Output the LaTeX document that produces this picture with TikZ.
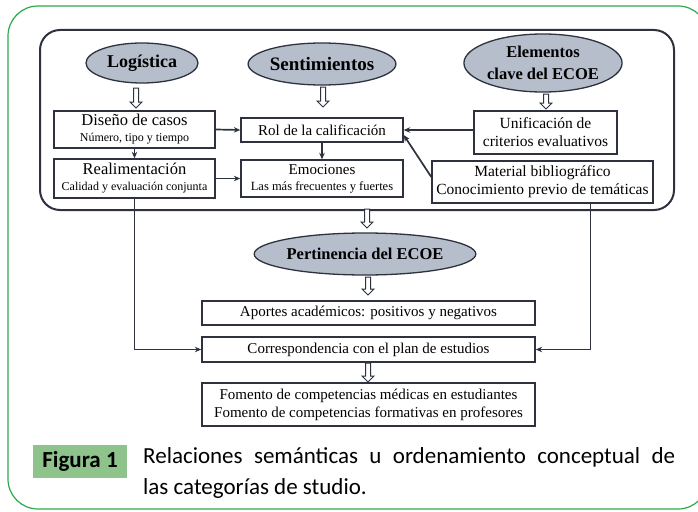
\documentclass[tikz,border=0pt]{standalone}
\usepackage{fontspec}
\setmainfont{Liberation Serif}
\newfontfamily\capfont{Carlito}
\usetikzlibrary{shapes.geometric,arrows.meta}
\definecolor{frameg}{RGB}{40,170,75}
\definecolor{labg}{RGB}{143,195,140}
\definecolor{ellf}{RGB}{182,189,203}
\definecolor{ink}{RGB}{45,50,62}
\tikzset{
  box/.style={draw=ink, line width=1.4pt, fill=white, inner sep=0pt, align=center},
  oval/.style={ellipse, draw=ink, line width=1.3pt, fill=ellf, inner sep=0pt, align=center},
  hollow/.style={draw=ink, line width=1pt, fill=white, line join=miter},
  conn/.style={draw=ink, line width=1.7pt, -{Stealth[length=6.5pt,width=5.5pt]}},
}
\newcommand{\fs}[1]{\fontsize{#1}{#1}\selectfont}
% hollow down arrow: name, x, top y, length
\newcommand{\hollowarrow}[4]{%
  \coordinate (#1) at (#2,#3);
  \draw[hollow] (#1) ++(-2.5,0) -- ++(0,#4-6) -- ++(-3.5,0) -- ++(6,6) -- ++(6,-6) -- ++(-3.5,0) -- ++(0,-#4+6) -- cycle;}
\begin{document}
\begin{tikzpicture}[x=1pt,y=-1pt]
\useasboundingbox (0,0) rectangle (698,511);
\draw[frameg, line width=1.2pt, rounded corners=30pt] (8,6) rectangle (708,509);
\draw[ink, line width=2pt, rounded corners=20pt] (40,30) rectangle (674,210);
% ellipses
\node[oval, minimum width=112pt, minimum height=40pt, font=\fs{18}\bfseries] (log) at (142,63) {Logística};
\node[oval, minimum width=128pt, minimum height=42pt, font=\fs{19}\bfseries] (sen) at (322,64) {Sentimientos};
\node[oval, minimum width=152pt, minimum height=58pt, font=\fontsize{16.5}{20}\selectfont\bfseries] (ele) at (543,63) {Elementos\\[2pt]clave del ECOE};
\node[oval, minimum width=186pt, minimum height=42pt, font=\fs{16.5}\bfseries] (per) at (365,254) {Pertinencia del ECOE};
% hollow arrows
\hollowarrow{h1}{136}{88}{20}
\hollowarrow{h2}{323}{87}{20}
\hollowarrow{h3}{546}{94}{15}
\hollowarrow{h4}{367}{209}{19}
\hollowarrow{h5}{368}{277}{18}
\hollowarrow{h6}{368}{363}{19}
% boxes
\node[box, minimum width=161pt, minimum height=37pt] (dis) at (134.5,129.5) {\fs{16.5}Diseño de casos\\[4pt]\fs{12}Número, tipo y tiempo};
\node[box, minimum width=161pt, minimum height=39pt] (rea) at (134.5,178.5) {\fs{16.5}Realimentación\\[4pt]\fs{12}Calidad y evaluación conjunta};
\node[box, minimum width=162pt, minimum height=24pt, font=\fs{15}] (rol) at (322,130) {Rol de la calificación};
\node[box, minimum width=162pt, minimum height=37pt] (emo) at (322,178.5) {\fs{15}Emociones\\[4pt]\fs{12.5}Las más frecuentes y fuertes};
\node[box, minimum width=143pt, minimum height=43pt, font=\fontsize{15.5}{18}\selectfont] (uni) at (545.5,132.5) {Unificación de\\criterios evaluativos};
\node[box, minimum width=221pt, minimum height=42pt, font=\fontsize{15.5}{18}\selectfont] (mat) at (542.5,182) {Material bibliográfico\\Conocimiento previo de temáticas};
\node[box, minimum width=333pt, minimum height=24pt, font=\fs{15}] (apo) at (368.5,313) {Aportes académicos: positivos y negativos};
\node[box, minimum width=333pt, minimum height=25pt, font=\fs{15}] (cor) at (368.5,349.5) {Correspondencia con el plan de estudios};
\node[box, minimum width=333pt, minimum height=43pt, font=\fontsize{15}{18}\selectfont] (fom) at (368.5,404.5) {Fomento de competencias médicas en estudiantes\\Fomento de competencias formativas en profesores};
% connectors
\draw[conn] (dis.east) -- (rol.west);
\draw[conn] (dis.south) -- (rea.north);
\draw[conn] (rea.east) -- (emo.west);
\draw[conn] (rol.south) -- (emo.north);
\draw[conn] (uni.west |- rol.east) -- (rol.east);
\draw[conn] ([yshift=5pt]mat.west) -- ([yshift=-5pt]rol.east);
\draw[conn] (rea.south) |- (cor.west);
\draw[conn] ([xshift=48pt]mat.south) |- (cor.east);
% caption
\node[fill=labg, minimum width=94pt, minimum height=33pt, inner sep=0pt, font=\capfont\fs{23}\bfseries] (fig) at (80,461.5) {Figura 1};
\node[anchor=base west, inner sep=0pt, align=left, font=\capfont\fontsize{23}{31}\selectfont] (cap) at (143,494) {\makebox[532pt][s]{Relaciones semánticas u ordenamiento conceptual de}\\las categorías de studio.};
\end{tikzpicture}
\end{document}
